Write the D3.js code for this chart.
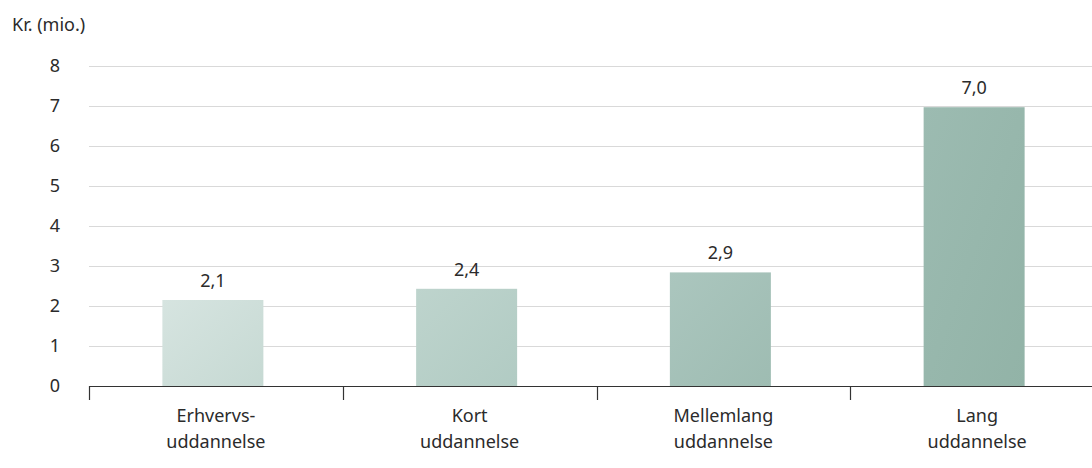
<!DOCTYPE html>
<html><head><meta charset="utf-8">
<script src="https://cdn.jsdelivr.net/npm/d3@7"></script>
<style>
html,body{margin:0;padding:0;background:#fff;}
text{font-family:"Noto Sans",sans-serif;fill:#2b2b2b;}
</style></head>
<body><svg id="c" width="1092" height="468"></svg>
<script>
const categories = [["Erhvervs-","uddannelse"],["Kort","uddannelse"],["Mellemlang","uddannelse"],["Lang","uddannelse"]];
const values = [2.15, 2.43, 2.84, 6.97];
const valueLabels = ["2,1","2,4","2,9","7,0"];
const barColors = [["#d6e4e0","#c6d9d3"],["#bed4cd","#b1cbc3"],["#abc6be","#9ebcb2"],["#9cbbb1","#92b3a7"]];
const yTicks = [0,1,2,3,4,5,6,7,8];
const yTitle = "Kr. (mio.)";

(function(){
const svg = d3.select("#c");
const mLeft = 89, mRight = 1104, mTop = 66, mBottom = 386;
const x = d3.scaleBand().domain(d3.range(categories.length)).range([mLeft, mRight]).paddingInner(0).paddingOuter(0);
const y = d3.scaleLinear().domain([0, 8]).range([mBottom, mTop]);
const fs = 18;

const defs = svg.append("defs");
barColors.forEach((c,i)=>{
  const g = defs.append("linearGradient").attr("id","g"+i).attr("x1","0").attr("y1","0").attr("x2","1").attr("y2","1");
  g.append("stop").attr("offset","0").attr("stop-color",c[0]);
  g.append("stop").attr("offset","1").attr("stop-color",c[1]);
});

svg.append("g").selectAll("line").data(yTicks.filter(d=>d>0)).join("line")
  .attr("x1", mLeft).attr("x2", 1092).attr("y1", d=>y(d)+0.5).attr("y2", d=>y(d)+0.5)
  .attr("stroke","#d9d9d9").attr("stroke-width",1);

svg.append("g").selectAll("text").data(yTicks).join("text")
  .attr("x", 60).attr("y", d=>y(d)).attr("dy","0.35em").attr("text-anchor","end")
  .attr("font-size", fs).text(d=>d);

svg.append("text").attr("x",12).attr("y",31).attr("font-size",fs).text(yTitle);

const bw = 101;
svg.append("g").selectAll("rect").data(values).join("rect")
  .attr("x",(d,i)=>x(i)+x.bandwidth()/2-bw/2 - 3)
  .attr("width",bw)
  .attr("y",d=>y(d)).attr("height",d=>mBottom-y(d))
  .attr("fill",(d,i)=>"url(#g"+i+")");

svg.append("g").selectAll("text").data(values).join("text")
  .attr("x",(d,i)=>x(i)+x.bandwidth()/2 - 3)
  .attr("y",d=>y(d)-13).attr("text-anchor","middle").attr("font-size",fs)
  .text((d,i)=>valueLabels[i]);

const xAxis = d3.axisBottom(x).tickSize(0).tickFormat("");
const ax = svg.append("g").attr("transform",`translate(0,${mBottom})`).call(xAxis);
ax.select(".domain").remove();
svg.append("line").attr("x1",mLeft).attr("x2",1092).attr("y1",mBottom+0.5).attr("y2",mBottom+0.5).attr("stroke","#333").attr("stroke-width",1.2);
svg.append("g").selectAll("line").data(d3.range(categories.length)).join("line")
  .attr("x1",d=>Math.round(x(d))+0.5).attr("x2",d=>Math.round(x(d))+0.5)
  .attr("y1",mBottom).attr("y2",mBottom+14).attr("stroke","#333").attr("stroke-width",1.2);

const cl = svg.append("g").selectAll("text").data(categories).join("text")
  .attr("x",(d,i)=>x(i)+x.bandwidth()/2).attr("y",422).attr("text-anchor","middle").attr("font-size",fs);
cl.each(function(d){
  const t = d3.select(this);
  d.forEach((line,j)=>{
    t.append("tspan").attr("x",t.attr("x")).attr("dy", j===0?0:26).text(line);
  });
});
})();
</script></body></html>
